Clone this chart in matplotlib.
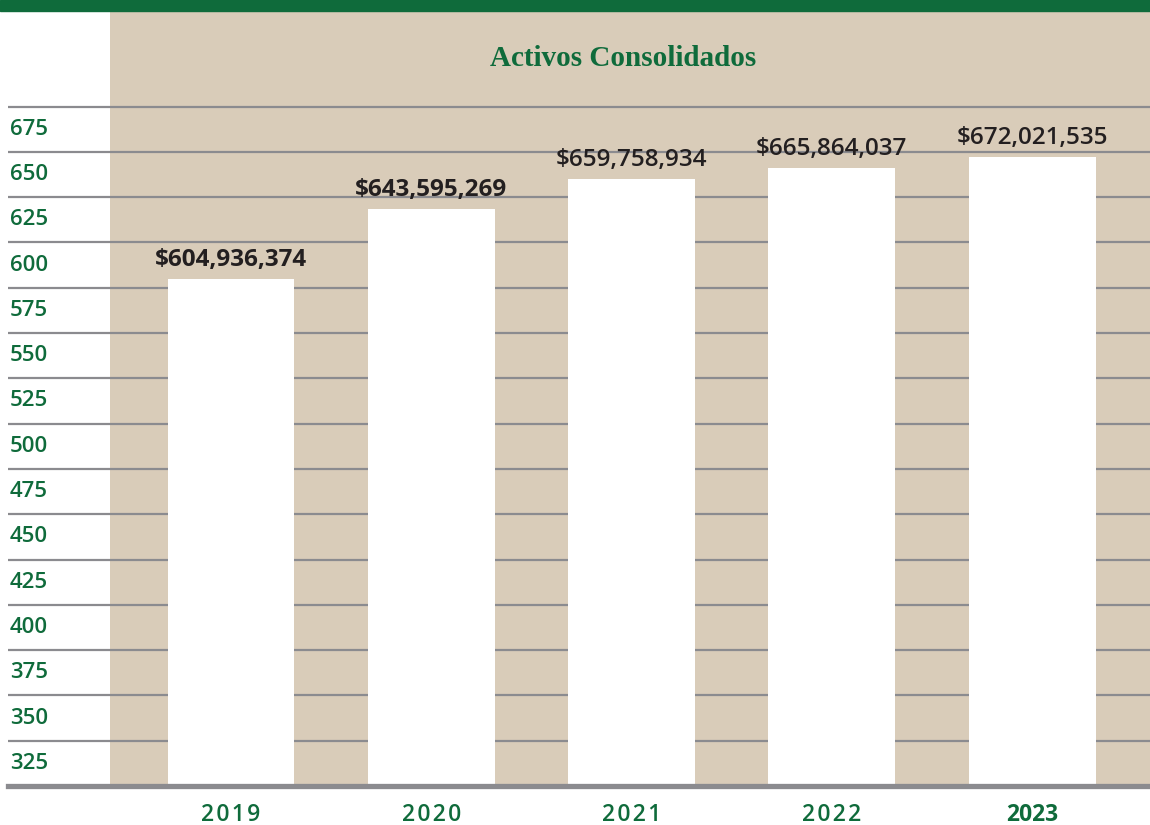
import matplotlib.pyplot as plt
from matplotlib.patches import Rectangle
from matplotlib.transforms import blended_transform_factory

years = ["2019", "2020", "2021", "2022", "2023"]
activos = [604.936374, 643.595269, 659.758934, 665.864037, 672.021535]
etiquetas = ["$604,936,374", "$643,595,269", "$659,758,934", "$665,864,037", "$672,021,535"]
etiqueta_bold = [True, True, False, False, False]
escala = [325, 350, 375, 400, 425, 450, 475, 500, 525, 550, 575, 600, 625, 650, 675]

verde = "#0f6b3b"
gris = "#8b8b8f"
beige = "#d9ccb9"

W, H = 1150, 825
fig = plt.figure(figsize=(W / 100, H / 100), dpi=100)
fig.patch.set_facecolor("white")

# green band at the very top
fig.patches.append(Rectangle((0, 1 - 11 / H), 1, 11 / H, transform=fig.transFigure,
                             color=verde, zorder=0))

ax = fig.add_axes([8 / W, 1 - 786 / H, 1 - 8 / W, (786 - 12) / H])
ax.set_facecolor("none")
for s in ax.spines.values():
    s.set_visible(False)

# beige background panel (right of the label column)
ax.add_patch(Rectangle(((110 - 8) / (W - 8), 0), 1, 1, transform=ax.transAxes,
                       facecolor=beige, edgecolor="none", zorder=0))

x = list(range(len(years)))
ax.set_xlim(-1.1136, 4.589)
ax.set_ylim(325, 325 + 774 / 1.812)

# gridlines
for v in escala[1:] + [700]:
    ax.axhline(v, color=gris, lw=1.6, zorder=1)
ax.axhline(325, color=gris, lw=3.8, zorder=3, clip_on=False)

ax.bar(x, activos, width=0.634, bottom=0, color="white", zorder=2)

for xi, v, t, b in zip(x, activos, etiquetas, etiqueta_bold):
    ax.annotate(t, (xi, v), xytext=(0, 5), textcoords="offset points",
                ha="center", va="bottom", fontsize=17.5, family="Open Sans",
                fontweight="bold" if b else "semibold", color="#231f20", zorder=4)

trans = blended_transform_factory(ax.transAxes, ax.transData)
for v in escala:
    ax.text(2 / (W - 8), v + 12.5, str(v), transform=trans, ha="left", va="center",
            fontsize=16, family="Open Sans", fontweight="semibold", color=verde)

ax.set_xticks(x)
ax.set_xticklabels([y if y == "2023" else "\u200a".join(y) for y in years])
ax.tick_params(axis="x", length=0, pad=12, labelsize=16.5, labelcolor=verde)
for lbl, y in zip(ax.get_xticklabels(), years):
    lbl.set_family(["Open Sans", "DejaVu Sans"])
    lbl.set_fontweight("bold" if y == "2023" else "semibold")
ax.set_yticks([])

fig.text(623 / W, 1 - 58 / H, "Activos Consolidados", ha="center", va="center",
         fontsize=21, family="Liberation Serif", fontweight="bold", color=verde)

fig.savefig("out.png", dpi=100)
